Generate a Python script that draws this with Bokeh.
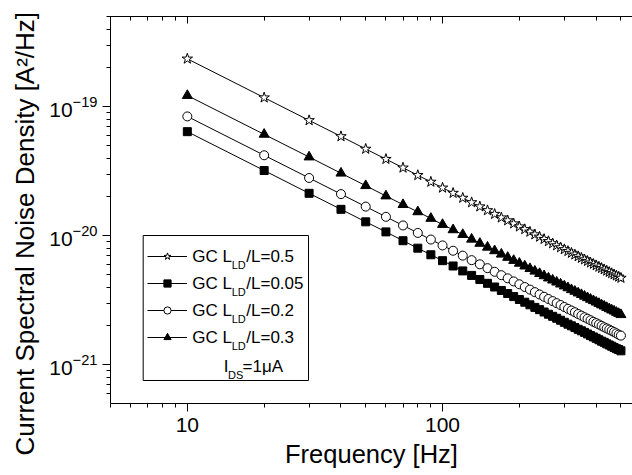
from bokeh.plotting import figure
from bokeh.models import (Range1d, LogAxis, FixedTicker, Legend, LegendItem, Label, Title,
                          BoxAnnotation, ColumnDataSource, CustomJSTickFormatter)
from bokeh.core.properties import value
from bokeh.embed import file_html
from bokeh.resources import INLINE

# ---------------- data ----------------
freq = [10, 20, 30, 40, 50, 60, 70, 80, 90, 100,
        110, 120, 130, 140, 150, 160, 170, 180, 190, 200,
        210, 220, 230, 240, 250, 260, 270, 280, 290, 300,
        310, 320, 330, 340, 350, 360, 370, 380, 390, 400,
        410, 420, 430, 440, 450, 460, 470, 480, 490, 500]

UNIT = 1e-21  # values below are in units of 1e-21 A^2/Hz

s_05 = [235, 117.5, 78.3, 58.8, 47.0, 39.2, 33.6, 29.4, 26.1, 23.5,
        21.4, 19.6, 18.1, 16.8, 15.7, 14.7, 13.8, 13.1, 12.4, 11.75,
        11.2, 10.7, 10.2, 9.79, 9.40, 9.04, 8.70, 8.39, 8.10, 7.83,
        7.58, 7.34, 7.12, 6.91, 6.71, 6.53, 6.35, 6.18, 6.03, 5.88,
        5.73, 5.60, 5.47, 5.34, 5.22, 5.11, 5.00, 4.90, 4.80, 4.70]

s_005 = [64, 32, 21.3, 16.0, 12.8, 10.7, 9.14, 8.00, 7.11, 6.40,
         5.82, 5.33, 4.92, 4.57, 4.27, 4.00, 3.76, 3.56, 3.37, 3.20,
         3.05, 2.91, 2.78, 2.67, 2.56, 2.46, 2.37, 2.29, 2.21, 2.13,
         2.06, 2.00, 1.94, 1.88, 1.83, 1.78, 1.73, 1.68, 1.64, 1.60,
         1.56, 1.52, 1.49, 1.45, 1.42, 1.39, 1.36, 1.33, 1.31, 1.28]

s_02 = [84, 42, 28.0, 21.0, 16.8, 14.0, 12.0, 10.5, 9.33, 8.40,
        7.64, 7.00, 6.46, 6.00, 5.60, 5.25, 4.94, 4.67, 4.42, 4.20,
        4.00, 3.82, 3.65, 3.50, 3.36, 3.23, 3.11, 3.00, 2.90, 2.80,
        2.71, 2.63, 2.55, 2.47, 2.40, 2.33, 2.27, 2.21, 2.15, 2.10,
        2.05, 2.00, 1.95, 1.91, 1.87, 1.83, 1.79, 1.75, 1.71, 1.68]

s_03 = [122, 61.0, 40.7, 30.5, 24.4, 20.3, 17.4, 15.3, 13.6, 12.2,
        11.1, 10.2, 9.38, 8.71, 8.13, 7.63, 7.18, 6.78, 6.42, 6.10,
        5.81, 5.55, 5.30, 5.08, 4.88, 4.69, 4.52, 4.36, 4.21, 4.07,
        3.94, 3.81, 3.70, 3.59, 3.49, 3.39, 3.30, 3.21, 3.13, 3.05,
        2.98, 2.90, 2.84, 2.77, 2.71, 2.65, 2.60, 2.54, 2.49, 2.44]

series_names = ["0.5", "0.05", "0.2", "0.3"]
series_markers = ["star", "square", "circle", "triangle"]
series_fill = ["white", "black", "white", "black"]
series_size = [11, 8, 9, 10]

x_major = [10, 100]
x_minor = [5, 6, 7, 8, 9, 20, 30, 40, 50, 60, 70, 80, 90, 200, 300, 400, 500]
y_major = [1e-21, 1e-20, 1e-19]
y_minor = [6e-22, 7e-22, 8e-22, 9e-22,
           2e-21, 3e-21, 4e-21, 5e-21, 6e-21, 7e-21, 8e-21, 9e-21,
           2e-20, 3e-20, 4e-20, 5e-20, 6e-20, 7e-20, 8e-20, 9e-20,
           2e-19, 3e-19, 4e-19, 5e-19]

FONT = "Liberation Sans"

p = figure(width=632, height=475, x_axis_type="log", y_axis_type="log",
           x_range=Range1d(5, 555), y_range=Range1d(5e-22, 5e-19),
           output_backend="svg", toolbar_location=None,
           min_border_left=110, min_border_right=0, min_border_top=16,
           min_border_bottom=72)
p.outline_line_color = None
p.grid.visible = False
p.background_fill_color = "white"
p.border_fill_color = "white"

# bottom axis
xa = p.xaxis[0]
xa.ticker = FixedTicker(ticks=x_major, minor_ticks=x_minor)
xa.formatter = CustomJSTickFormatter(code="return tick.toFixed(0)")
xa.axis_label = "Frequency [Hz]"

# left axis
ya = p.yaxis[0]
ya.ticker = FixedTicker(ticks=y_major, minor_ticks=y_minor)

for ax in (xa, ya):
    ax.axis_line_color = "black"
    ax.axis_line_width = 1
    ax.major_tick_line_color = "black"
    ax.minor_tick_line_color = "black"
    ax.major_tick_in = 0
    ax.minor_tick_in = 0
    ax.major_tick_out = 8
    ax.minor_tick_out = 4
    ax.major_label_text_font = FONT
    ax.major_label_text_font_size = "21px"
    ax.major_label_text_color = "black"
    ax.axis_label_text_font = FONT
    ax.axis_label_text_font_size = "25.5px"
    ax.axis_label_text_font_style = "normal"
    ax.axis_label_text_color = "black"
xa.major_label_standoff = 6
xa.axis_label_standoff = 5
ya.major_label_standoff = 5

# y-axis title as a side title; in the reference it sits below the axis centre
ytitle = Title(text="Current Spectral Noise Density [A\u00b2/Hz]", align="left",
               offset=-52, text_font=FONT, text_font_size="26px",
               text_font_style="normal", text_color="black", standoff=14)
p.add_layout(ytitle, "left")

# top mirror axis (ticks inward, no labels)
top = LogAxis(ticker=FixedTicker(ticks=x_major, minor_ticks=x_minor),
              formatter=CustomJSTickFormatter(code="return ''"),
              major_label_text_font_size="0px", major_label_standoff=0,
              major_tick_in=7, major_tick_out=0, minor_tick_in=4, minor_tick_out=0,
              axis_line_color="black", major_tick_line_color="black",
              minor_tick_line_color="black")
p.add_layout(top, "above")

series = [s_05, s_005, s_02, s_03]
items = []
for name, vals, mk, fc, sz in zip(series_names, series, series_markers, series_fill, series_size):
    src = ColumnDataSource(dict(f=freq, y=[v * UNIT for v in vals]))
    rl = p.line("f", "y", source=src, line_color="black", line_width=1)
    rm = p.scatter("f", "y", source=src, marker=mk, size=sz, fill_color=fc,
                   line_color="black", line_width=1)
    items.append(LegendItem(label=value(" "), renderers=[rl, rm]))

# legend frame
box = BoxAnnotation(left=32.7, right=198, bottom=23, top=168,
                    left_units="screen", right_units="screen",
                    bottom_units="screen", top_units="screen",
                    fill_color="white", fill_alpha=1, line_color="black",
                    line_width=1, line_alpha=1)
p.add_layout(box)

legend = Legend(items=items, location=(36.7, 57.5), padding=0, margin=0, spacing=9,
                glyph_width=40, glyph_height=18, label_height=18, label_width=0,
                label_standoff=0, border_line_color=None, background_fill_alpha=0,
                label_text_font_size="1px")
p.add_layout(legend, "center")

row_y = [147.5, 120.5, 93.5, 66.5]
for name, ry in zip(series_names, row_y):
    p.add_layout(Label(x=81.7, y=ry, x_units="screen", y_units="screen", text="GC L",
                       text_font=FONT, text_font_size="17px", text_baseline="middle",
                       text_color="black"))
    p.add_layout(Label(x=121.2, y=ry - 8.5, x_units="screen", y_units="screen", text="LD",
                       text_font=FONT, text_font_size="11px", text_baseline="middle",
                       text_color="black"))
    p.add_layout(Label(x=135.8, y=ry, x_units="screen", y_units="screen", text="/L=" + name,
                       text_font=FONT, text_font_size="17px", text_baseline="middle",
                       text_color="black"))

p.add_layout(Label(x=113.3, y=37.5, x_units="screen", y_units="screen", text="I",
                   text_font=FONT, text_font_size="17px", text_baseline="middle",
                   text_color="black"))
p.add_layout(Label(x=117.5, y=29.0, x_units="screen", y_units="screen", text="DS",
                   text_font=FONT, text_font_size="11px", text_baseline="middle",
                   text_color="black"))
p.add_layout(Label(x=132.0, y=37.5, x_units="screen", y_units="screen", text="=1\u03bcA",
                   text_font=FONT, text_font_size="17px", text_baseline="middle",
                   text_color="black"))

open("out.html", "w").write(file_html(p, INLINE))
